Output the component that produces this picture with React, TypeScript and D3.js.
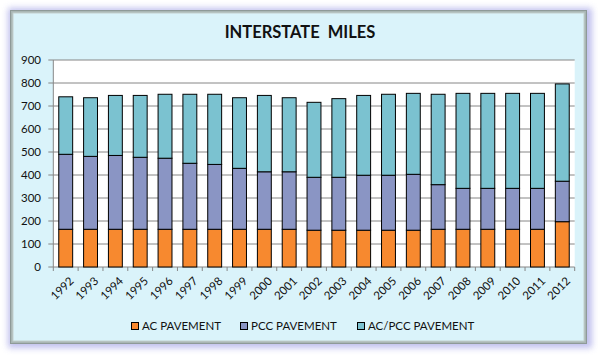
import React from "react";
import * as d3 from "d3";

const years = ["1992","1993","1994","1995","1996","1997","1998","1999","2000","2001","2002","2003","2004","2005","2006","2007","2008","2009","2010","2011","2012"];
const acPavement = [164,164,164,164,164,164,164,164,164,164,160,160,160,160,160,164,164,164,164,164,197];
const pccPavement = [326,317,321,313,309,287,282,265,250,250,230,230,239,239,243,194,178,178,178,178,176];
const acPccPavement = [250,255,261,269,278,300,305,307,332,322,326,342,347,352,352,393,413,413,413,413,423];
const yTicks = [0,100,200,300,400,500,600,700,800,900];
const seriesNames = ["AC PAVEMENT","PCC PAVEMENT","AC/PCC PAVEMENT"];
const seriesColors = ["#f7892f","#8a95c4","#7bc2d0"];

const W = 598, H = 359;
const plot = { left: 53.3, right: 574.7, top: 60, bottom: 267 };
const FONT = "Lato, 'Open Sans', sans-serif";

export default function App() {
  const x = d3.scaleBand<string>().domain(years).range([plot.left, plot.right]).paddingInner(0.44).paddingOuter(0.22);
  const y = d3.scaleLinear().domain([0, 900]).range([plot.bottom, plot.top]);
  const rows = years.map((yr, i) => ({ year: yr, ac: acPavement[i], pcc: pccPavement[i], acpcc: acPccPavement[i] }));
  const stack = d3.stack<any>().keys(["ac","pcc","acpcc"])(rows);
  const step = x.step();
  const boundaries = years.map((_, i) => plot.left + i * step).concat([plot.right]);

  return (
    <svg width={W} height={H} style={{ position: "absolute", left: 0, top: 0 }} fontFamily={FONT}>
      <defs>
        <filter id="sh" x="-10%" y="-10%" width="120%" height="120%">
          <feGaussianBlur stdDeviation="3" />
        </filter>
      </defs>
      <rect x={0} y={0} width={W} height={H} fill="#ffffff" />
      <rect x={8} y={8} width={584} height={340} fill="#b9b9ec" filter="url(#sh)" opacity={0.9} />
      <rect x={10.5} y={10.5} width={576} height={333} fill="#a9b6b4" stroke="#8e9a98" />
      <rect x={13} y={13} width={571} height={328} fill="#daf3fa" stroke="#c3d0ce" strokeWidth={1} />
      <text x={300} y={38} textAnchor="middle" fontSize={16.5} fontWeight="bold" fill="#111" style={{ whiteSpace: "pre" }}>INTERSTATE  MILES</text>
      <rect x={plot.left} y={plot.top} width={plot.right - plot.left} height={plot.bottom - plot.top} fill="#ffffff" />
      {yTicks.map(t => (
        <g key={t}>
          <line x1={plot.left - 5} x2={plot.right} y1={y(t)} y2={y(t)} stroke="#868686" strokeWidth={1} />
          <text x={41} y={y(t)} dy="0.35em" textAnchor="end" fontSize={11.5} fill="#111">{t}</text>
        </g>
      ))}
      <line x1={plot.left} x2={plot.left} y1={plot.top} y2={plot.bottom} stroke="#868686" />
      {boundaries.map((b, i) => (
        <line key={i} x1={b} x2={b} y1={plot.bottom} y2={plot.bottom + 4} stroke="#868686" />
      ))}
      {stack.map((s, si) => (
        <g key={si}>
          {s.map((d, i) => (
            <rect key={i} x={x(years[i])!} y={y(d[1])} width={x.bandwidth()} height={y(d[0]) - y(d[1])}
              fill={seriesColors[si]} stroke="#000" strokeWidth={1} />
          ))}
        </g>
      ))}
      {years.map(yr => {
        const cx = x(yr)! + x.bandwidth() / 2 + 3;
        return (
          <text key={yr} transform={`translate(${cx},${plot.bottom + 9}) rotate(-45)`} textAnchor="end" dy="0.7em" fontSize={11.5} fill="#111">{yr}</text>
        );
      })}
      {seriesNames.map((n, i) => {
        const lx = [131.5, 240.5, 357.5][i];
        return (
          <g key={n}>
            <rect x={lx} y={322.5} width={7} height={7} fill={seriesColors[i]} stroke="#000" strokeWidth={1} />
            <text x={lx + 10.5} y={326} dy="0.35em" fontSize={11.5} fill="#111">{n}</text>
          </g>
        );
      })}
    </svg>
  );
}
